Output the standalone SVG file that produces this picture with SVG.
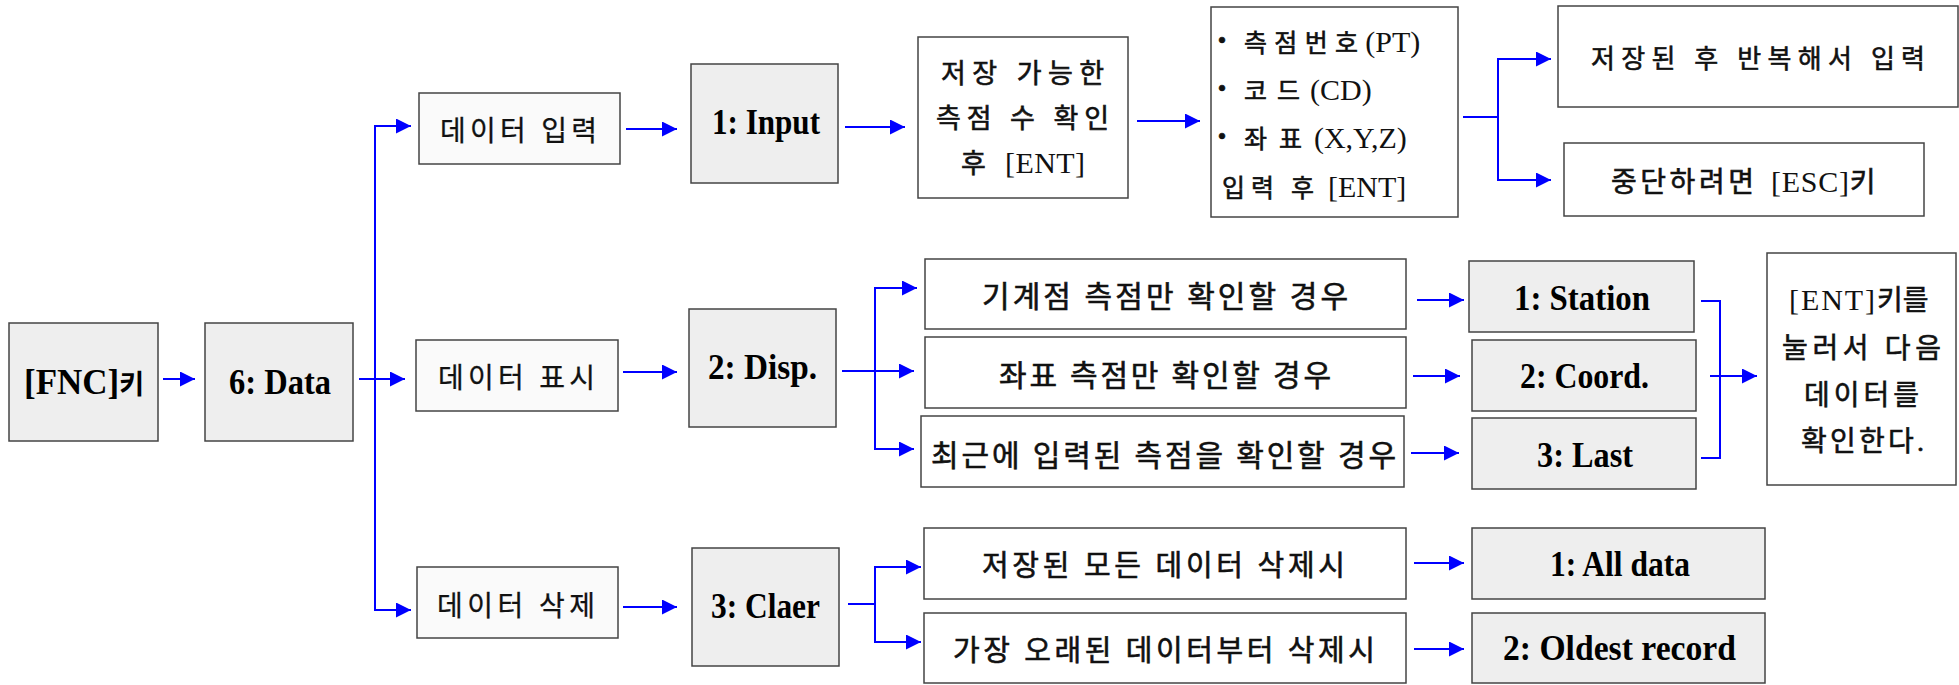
<svg xmlns="http://www.w3.org/2000/svg" width="1959" height="685" viewBox="0 0 1959 685">
<defs>
<marker id="ah" viewBox="0 0 15 15" refX="15" refY="7.5" markerWidth="15" markerHeight="15" markerUnits="userSpaceOnUse" orient="auto">
<path d="M0,0 L15,7.5 L0,15 z" fill="#0000ff"/>
</marker>
<style>
.box{stroke:#444;stroke-width:1.5;fill:#ffffff}
.g{fill:#eeeeee}
.l{fill:#fafafa}
.k{font-family:"Liberation Serif","Noto Sans CJK KR",serif;font-size:29px;font-weight:normal;fill:#111;stroke:#111;stroke-width:0.6}
.n{stroke-width:0.3}
.k25{font-size:25px}
.k26{font-size:26px}
.k27{font-size:27px}
.k28{font-size:28px}
.k30{font-size:30px}
.s{font-size:30px;font-weight:normal;stroke:none}
.dot{font-size:36px;font-weight:bold}
.b{font-family:"Liberation Serif","Noto Sans CJK KR",serif;font-size:35px;font-weight:bold;fill:#000}
.c{fill:none;stroke:#0000ff;stroke-width:2}
.a{marker-end:url(#ah)}
</style>
</defs>
<rect width="1959" height="685" fill="#ffffff"/>

<g id="connectors">
<line class="c a" x1="163" y1="379" x2="195" y2="379"/>
<line class="c" x1="359" y1="379" x2="375" y2="379"/>
<line class="c a" x1="375" y1="379" x2="405" y2="379"/>
<line class="c" x1="375" y1="126" x2="375" y2="610"/>
<line class="c a" x1="374" y1="126" x2="411" y2="126"/>
<line class="c a" x1="374" y1="610" x2="411" y2="610"/>
<line class="c a" x1="626" y1="129" x2="677" y2="129"/>
<line class="c a" x1="623" y1="372" x2="677" y2="372"/>
<line class="c a" x1="623" y1="607" x2="677" y2="607"/>
<line class="c a" x1="845" y1="127" x2="905" y2="127"/>
<line class="c a" x1="1137" y1="121" x2="1200" y2="121"/>
<line class="c" x1="1463" y1="117" x2="1498" y2="117"/>
<line class="c" x1="1498" y1="59" x2="1498" y2="181"/>
<line class="c a" x1="1497" y1="59" x2="1551" y2="59"/>
<line class="c a" x1="1497" y1="180" x2="1551" y2="180"/>
<line class="c" x1="842" y1="371" x2="875" y2="371"/>
<line class="c" x1="875" y1="288" x2="875" y2="449"/>
<line class="c a" x1="874" y1="288" x2="917" y2="288"/>
<line class="c a" x1="875" y1="371" x2="914" y2="371"/>
<line class="c a" x1="874" y1="449" x2="914" y2="449"/>
<line class="c a" x1="1417" y1="300" x2="1464" y2="300"/>
<line class="c a" x1="1413" y1="376" x2="1460" y2="376"/>
<line class="c a" x1="1411" y1="453" x2="1459" y2="453"/>
<polyline class="c" points="1701,301 1720,301 1720,458 1701,458"/>
<line class="c a" x1="1710" y1="376" x2="1757" y2="376"/>
<line class="c" x1="848" y1="604" x2="875" y2="604"/>
<line class="c" x1="875" y1="567" x2="875" y2="642"/>
<line class="c a" x1="874" y1="567" x2="921" y2="567"/>
<line class="c a" x1="874" y1="642" x2="921" y2="642"/>
<line class="c a" x1="1414" y1="563" x2="1464" y2="563"/>
<line class="c a" x1="1414" y1="649" x2="1464" y2="649"/>
</g>

<g id="fnc"><rect class="box g" x="9" y="323" width="149" height="118"/>
<text class="b" x="24" y="394" font-size="32">[FNC]<tspan font-family="Noto Sans CJK KR" font-size="27">키</tspan></text></g>
<g id="data"><rect class="box g" x="205" y="323" width="148" height="118"/>
<text class="b" x="229" y="394" textLength="102" lengthAdjust="spacingAndGlyphs">6: Data</text></g>

<g id="in"><rect class="box l" x="419" y="93" width="201" height="71"/>
<text class="k k28 n" x="440" y="141" textLength="157" lengthAdjust="spacing">데이터 입력</text></g>
<g id="show"><rect class="box l" x="416" y="340" width="202" height="71"/>
<text class="k k28 n" x="438" y="388" textLength="157" lengthAdjust="spacing">데이터 표시</text></g>
<g id="del"><rect class="box l" x="417" y="567" width="201" height="71"/>
<text class="k k28 n" x="437" y="616" textLength="158" lengthAdjust="spacing">데이터 삭제</text></g>

<g id="input"><rect class="box g" x="691" y="64" width="147" height="119"/>
<text class="b" x="712" y="134" textLength="108" lengthAdjust="spacingAndGlyphs">1: Input</text></g>
<g id="disp"><rect class="box g" x="689" y="309" width="147" height="118"/>
<text class="b" x="708" y="379" textLength="109" lengthAdjust="spacingAndGlyphs">2: Disp.</text></g>
<g id="claer"><rect class="box g" x="692" y="548" width="147" height="118"/>
<text class="b" x="711" y="618" textLength="109" lengthAdjust="spacingAndGlyphs">3: Claer</text></g>

<g id="capacity"><rect class="box" x="918" y="37" width="210" height="161"/>
<text class="k k27" x="941" y="83" textLength="163" lengthAdjust="spacing">저장 가능한</text>
<text class="k k27" x="936" y="128" textLength="173" lengthAdjust="spacing">측점 수 확인</text>
<text class="k k27" x="961" y="173">후 <tspan class="s" x="1005" textLength="80" lengthAdjust="spacing">[ENT]</tspan></text></g>

<g id="points"><rect class="box" x="1211" y="7" width="247" height="210"/>
<text class="k k25" x="1216" y="52"><tspan class="dot">·</tspan> <tspan x="1244" textLength="114" lengthAdjust="spacing">측점번호</tspan><tspan class="s" font-size="29">(PT)</tspan></text>
<text class="k k25" x="1216" y="100"><tspan class="dot">·</tspan> <tspan x="1244" textLength="56" lengthAdjust="spacing">코드</tspan><tspan class="s" font-size="29">(CD)</tspan></text>
<text class="k k25" x="1216" y="148"><tspan class="dot">·</tspan> <tspan x="1244" textLength="58" lengthAdjust="spacing">좌표</tspan><tspan class="s" font-size="29">(X,Y,Z)</tspan></text>
<text class="k k25" x="1222" y="197"><tspan textLength="52" lengthAdjust="spacing">입력</tspan> <tspan x="1291">후</tspan> <tspan class="s" x="1328" font-size="35">[ENT]</tspan></text></g>

<g id="repeat"><rect class="box" x="1558" y="6" width="400" height="101"/>
<text class="k k26" x="1591" y="68" textLength="334" lengthAdjust="spacing">저장된 후 반복해서 입력</text></g>
<g id="esc"><rect class="box" x="1564" y="143" width="360" height="73"/>
<text class="k k28" x="1611" y="192"><tspan textLength="143" lengthAdjust="spacing">중단하려면</tspan> <tspan class="s" x="1771" textLength="78" lengthAdjust="spacing">[ESC]</tspan>키</text></g>

<g id="m1"><rect class="box" x="925" y="259" width="481" height="70"/>
<text class="k k30" x="982" y="307" textLength="366" lengthAdjust="spacing">기계점 측점만 확인할 경우</text></g>
<g id="m2"><rect class="box" x="925" y="337" width="481" height="71"/>
<text class="k k30" x="999" y="386" textLength="332" lengthAdjust="spacing">좌표 측점만 확인할 경우</text></g>
<g id="m3"><rect class="box" x="921" y="416" width="483" height="71"/>
<text class="k k30" x="931" y="466" textLength="465" lengthAdjust="spacing">최근에 입력된 측점을 확인할 경우</text></g>

<g id="station"><rect class="box g" x="1469" y="261" width="225" height="71"/>
<text class="b" x="1514" y="310" textLength="136" lengthAdjust="spacingAndGlyphs">1: Station</text></g>
<g id="coord"><rect class="box g" x="1472" y="340" width="224" height="71"/>
<text class="b" x="1520" y="388" textLength="129" lengthAdjust="spacingAndGlyphs">2: Coord.</text></g>
<g id="last"><rect class="box g" x="1472" y="418" width="224" height="71"/>
<text class="b" x="1537" y="467" textLength="96" lengthAdjust="spacingAndGlyphs">3: Last</text></g>

<g id="next"><rect class="box" x="1767" y="253" width="189" height="232"/>
<text class="k k28" x="1789" y="310"><tspan class="s" font-size="32" textLength="86" lengthAdjust="spacing">[ENT]</tspan><tspan x="1877">키를</tspan></text>
<text class="k k28" x="1782" y="358" textLength="159" lengthAdjust="spacing">눌러서 다음</text>
<text class="k k28" x="1804" y="405" textLength="115" lengthAdjust="spacing">데이터를</text>
<text class="k k28" x="1801" y="451" textLength="123" lengthAdjust="spacing">확인한다.</text></g>

<g id="d1"><rect class="box" x="924" y="528" width="482" height="71"/>
<text class="k" x="982" y="576" textLength="363" lengthAdjust="spacing">저장된 모든 데이터 삭제시</text></g>
<g id="d2"><rect class="box" x="924" y="613" width="482" height="70"/>
<text class="k" x="953" y="661" textLength="422" lengthAdjust="spacing">가장 오래된 데이터부터 삭제시</text></g>

<g id="alldata"><rect class="box g" x="1472" y="528" width="293" height="71"/>
<text class="b" x="1550" y="576" textLength="140" lengthAdjust="spacingAndGlyphs">1: All data</text></g>
<g id="oldest"><rect class="box g" x="1472" y="613" width="293" height="70"/>
<text class="b" x="1503" y="660" textLength="233" lengthAdjust="spacingAndGlyphs">2: Oldest record</text></g>
</svg>
